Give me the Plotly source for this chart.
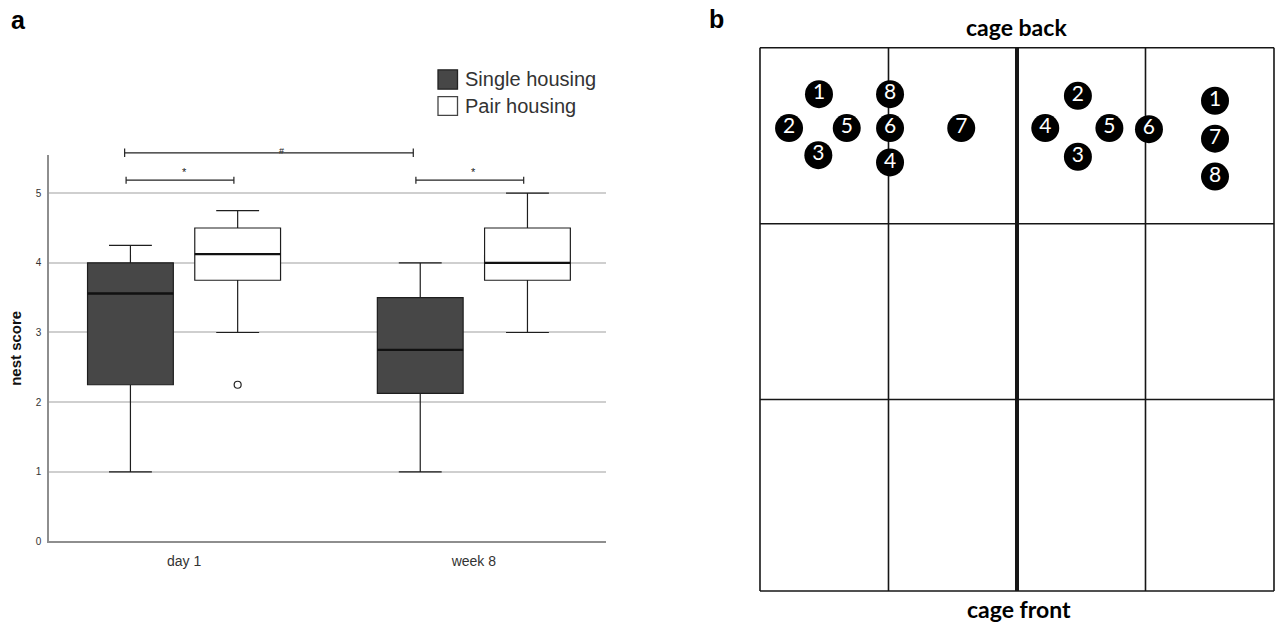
import plotly.graph_objects as go

# ---------------- data: panel a (nest score box plot) ----------------
categories = ["day 1", "week 8"]

single_q1 = [2.25, 2.125]
single_median = [3.56, 2.75]
single_q3 = [4.0, 3.5]
single_low = [1.0, 1.0]
single_high = [4.25, 4.0]

pair_q1 = [3.75, 3.75]
pair_median = [4.125, 4.0]
pair_q3 = [4.5, 4.5]
pair_low = [3.0, 3.0]
pair_high = [4.75, 5.0]
pair_outliers = [[2.25], []]

y_ticks = [0, 1, 2, 3, 4, 5]

# ---------------- data: panel b (nest positions in cage) ----------------
cage_cols = [0, 1, 2, 3, 4]
cage_rows = [0, 1.505, 2.885, 4.268]
divider_col = 2

half1_labels = ["1", "2", "5", "3", "8", "6", "4", "7"]
half1_x = [0.459, 0.226, 0.675, 0.454, 1.012, 1.012, 1.012, 1.566]
half1_y = [3.904, 3.637, 3.637, 3.424, 3.904, 3.637, 3.367, 3.637]

half2_labels = ["2", "4", "5", "3", "6", "1", "7", "8"]
half2_x = [2.474, 2.220, 2.719, 2.474, 3.027, 3.541, 3.541, 3.541]
half2_y = [3.891, 3.637, 3.637, 3.412, 3.629, 3.852, 3.554, 3.256]

# ---------------- layout helpers ----------------
W, H = 1278, 629


def px(x):
    return x / W


def py(y):
    return 1 - y / H


FONT = "Liberation Sans"
CAL = "Lato, Carlito, Calibri, sans-serif"

fig = go.Figure()

fig.add_trace(go.Box(
    name="Single housing", x=categories, offsetgroup="single",
    q1=single_q1, median=single_median, q3=single_q3,
    lowerfence=single_low, upperfence=single_high,
    fillcolor="#474747", line=dict(color="#1e1e1e", width=1.2),
    whiskerwidth=0.5, boxpoints=False, showlegend=False,
    xaxis="x", yaxis="y",
))
fig.add_trace(go.Box(
    name="Pair housing", x=categories, y=pair_outliers, offsetgroup="pair",
    q1=pair_q1, median=pair_median, q3=pair_q3,
    lowerfence=pair_low, upperfence=pair_high,
    fillcolor="white", line=dict(color="#1e1e1e", width=1.2),
    whiskerwidth=0.5, boxpoints="outliers", pointpos=0, jitter=0,
    marker=dict(symbol="circle-open", size=7, color="#222",
                line=dict(width=1.2, color="#222")),
    showlegend=False, xaxis="x", yaxis="y",
))
# thicker median lines, drawn from the same medians
for grp, med in [("single", single_median), ("pair", pair_median)]:
    fig.add_trace(go.Box(
        x=categories, offsetgroup=grp,
        q1=med, median=med, q3=med, lowerfence=med, upperfence=med,
        fillcolor="rgba(0,0,0,0)", line=dict(color="#111", width=2.4),
        whiskerwidth=0, boxpoints=False, showlegend=False, hoverinfo="skip",
        xaxis="x", yaxis="y",
    ))

# panel b nests
for lab, xs, ys in [(half1_labels, half1_x, half1_y), (half2_labels, half2_x, half2_y)]:
    fig.add_trace(go.Scatter(
        x=xs, y=ys, text=lab, mode="markers+text",
        marker=dict(size=28, color="black", line=dict(width=0)),
        textposition="middle center",
        textfont=dict(family=CAL, size=21, color="white"),
        cliponaxis=False, showlegend=False, hoverinfo="skip",
        xaxis="x2", yaxis="y2",
    ))

shapes = []
# cage grid
for c in cage_cols:
    shapes.append(dict(type="line", xref="x2", yref="y2", x0=c, x1=c,
                       y0=cage_rows[0], y1=cage_rows[-1], layer="below",
                       line=dict(color="#161616", width=4 if c == divider_col else 1.6)))
for r in cage_rows:
    shapes.append(dict(type="line", xref="x2", yref="y2", x0=cage_cols[0], x1=cage_cols[-1],
                       y0=r, y1=r, layer="below", line=dict(color="#161616", width=1.6)))

# significance brackets (panel a)
ymax = 5.545


def bracket(x0, x1, yv, tick):
    d = yv / ymax
    out = [dict(type="line", xref="x", yref="y domain", x0=x0, x1=x1, y0=d, y1=d,
                line=dict(color="#222", width=1.2))]
    for xx in (x0, x1):
        out.append(dict(type="line", xref="x", yref="y domain", x0=xx, x1=xx,
                        y0=d - tick, y1=d + tick, line=dict(color="#222", width=1.2)))
    return out


shapes += bracket(-0.2, 0.172, 5.186, 0.009)
shapes += bracket(0.8, 1.172, 5.186, 0.009)
shapes += bracket(-0.205, 0.791, 5.579, 0.011)

# legend swatches
shapes.append(dict(type="rect", xref="paper", yref="paper",
                   x0=px(438), x1=px(457.5), y0=py(90), y1=py(70.5),
                   fillcolor="#474747", line=dict(color="#222", width=1.3)))
shapes.append(dict(type="rect", xref="paper", yref="paper",
                   x0=px(438), x1=px(457.5), y0=py(116.5), y1=py(97.5),
                   fillcolor="white", line=dict(color="#444", width=1.3)))

annotations = [
    dict(text="*", x=0, y=5.3, xref="x", yref="y", showarrow=False,
         font=dict(family=FONT, size=11, color="#222")),
    dict(text="*", x=1, y=5.3, xref="x", yref="y", showarrow=False,
         font=dict(family=FONT, size=11, color="#222")),
    dict(text="#", x=0.335, y=(5.70 / ymax), xref="x", yref="y domain", showarrow=False,
         font=dict(family=FONT, size=9, color="#222")),
    dict(text="Single housing", x=px(463), y=py(80), xref="paper", yref="paper",
         xanchor="left", yanchor="middle", showarrow=False,
         font=dict(family=FONT, size=20, color="#333")),
    dict(text="Pair housing", x=px(463), y=py(107), xref="paper", yref="paper",
         xanchor="left", yanchor="middle", showarrow=False,
         font=dict(family=FONT, size=20, color="#333")),
    dict(text="<b>a</b>", x=px(18.5), y=py(20.5), xref="paper", yref="paper",
         xanchor="center", yanchor="middle", showarrow=False,
         font=dict(family=FONT, size=25, color="black")),
    dict(text="<b>b</b>", x=px(716.5), y=py(19.5), xref="paper", yref="paper",
         xanchor="center", yanchor="middle", showarrow=False,
         font=dict(family=FONT, size=25, color="black")),
    dict(text="<b>cage back</b>", x=px(1016.5), y=py(27), xref="paper", yref="paper",
         xanchor="center", yanchor="middle", showarrow=False,
         font=dict(family=CAL, size=23, color="black")),
    dict(text="<b>cage front</b>", x=px(1019), y=py(615), xref="paper", yref="paper",
         xanchor="center", yanchor="middle", showarrow=False,
         font=dict(family=CAL, size=23, color="black")),
]

fig.update_layout(
    width=W, height=H,
    margin=dict(l=0, r=0, t=0, b=0),
    paper_bgcolor="white", plot_bgcolor="white",
    font=dict(family=FONT, color="#333"),
    boxmode="group", boxgap=0.26, boxgroupgap=0.2,
    showlegend=False,
    xaxis=dict(domain=[px(49), px(606)], type="category",
               range=[-0.466, 1.456], showgrid=False, zeroline=False,
               showline=True, linecolor="#8e8e8e", linewidth=1.6,
               ticks="", tickfont=dict(family=FONT, size=14, color="#333"),
               ticklabelstandoff=6, anchor="y"),
    yaxis=dict(domain=[py(546.7), py(156.7)], range=[0, ymax],
               tickvals=y_ticks, showgrid=True, gridcolor="#cfcfcf", gridwidth=1.5,
               zeroline=False, showline=True, linecolor="#8e8e8e", linewidth=1.6,
               ticks="", tickfont=dict(family=FONT, size=10, color="#333"),
               ticklabelstandoff=4,
               title=dict(text="<b>nest score</b>", standoff=10,
                          font=dict(family=FONT, size=15, color="#111")),
               anchor="x"),
    xaxis2=dict(domain=[px(756.145), px(1277.855)], range=[-0.03, 4.03],
                visible=False, anchor="y2"),
    yaxis2=dict(domain=[py(600.555), py(44.40)], range=[-0.03, 4.298],
                visible=False, anchor="x2"),
    shapes=shapes,
    annotations=annotations,
)

# remove the default 8px page margin so the figure fills the window exactly
fig.write_html("out.html", config={"displayModeBar": False},
               post_script="document.body.style.margin='0px';document.body.style.overflow='hidden';")
